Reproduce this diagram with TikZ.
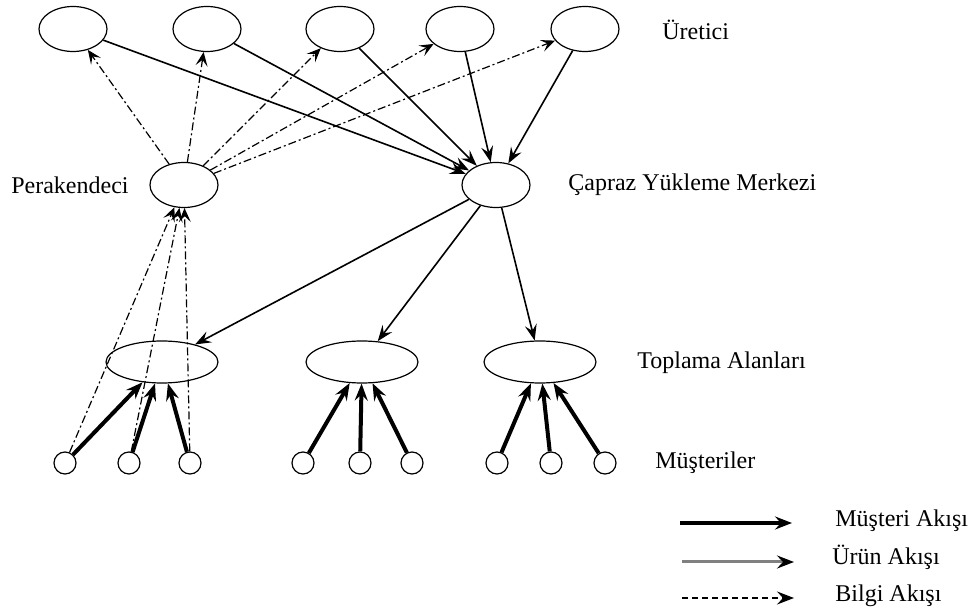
\documentclass[tikz,border=0pt]{standalone}
\usepackage{fontspec}
\setmainfont{Liberation Serif}
\usetikzlibrary{arrows.meta,shapes.geometric}

\begin{document}
\begin{tikzpicture}[x=0.5pt,y=-0.5pt,
	elips/.style={draw,ellipse,line width=0.6pt,minimum width=34pt,minimum height=22.5pt,inner sep=0pt},
	genis/.style={draw,ellipse,line width=0.6pt,minimum width=56pt,minimum height=21pt,inner sep=0pt},
	musteri/.style={draw,circle,line width=0.6pt,minimum size=11pt,inner sep=0pt},
	etiket/.style={anchor=west,inner sep=0pt,font=\fontsize{12}{14}\selectfont},
	urun/.style={line width=0.8pt,-{Stealth[length=8pt,width=6pt,inset=3pt]}},
	akis/.style={line width=2pt,-{Stealth[length=8.5pt,width=6.5pt,inset=3pt]}},
	bilgi/.style={line width=0.6pt,dash pattern=on 4pt off 1.5pt on 1pt off 1.5pt,-{Stealth[length=7pt,width=6pt,inset=3pt]}}]
				\useasboundingbox (0,0) rectangle (975,614);
				% ureticiler, perakendeci, capraz yukleme
				\foreach \x [count=\i] in {73,207,340,460,585}
					\node[elips] (u\i) at (\x,29) {};
				\node[elips] (per) at (184,185) {};
				\node[elips] (cm) at (496,185) {};
				\foreach \x [count=\i] in {162,362,540}
					\node[genis] (t\i) at (\x,362) {};
				\foreach \x [count=\i] in {65,129,190,303,360,412,497,551,605}
					\node[musteri] (m\i) at (\x,463) {};
				% akislar
				\foreach \i in {1,...,5}
					\draw[urun] (u\i) -- (cm);
				\foreach \i in {1,...,5}
					\draw[bilgi] (per) -- (u\i);
				\foreach \i in {1,2,3}
					\draw[urun] (cm) -- (t\i);
				\foreach \m/\g in {1/1,2/1,3/1,4/2,5/2,6/2,7/3,8/3,9/3}
					\draw[akis] (m\m) -- (t\g);
				\foreach \i in {1,2,3}
					\draw[bilgi] (m\i) -- (per);
				% etiketler
				\node[etiket] (lu) at (662,30) {Üretici};
				\node[etiket,anchor=east] (lp) at (129,185) {Perakendeci};
				\node[etiket] (lc) at (568,185) {Çapraz Yükleme Merkezi};
				\node[etiket] (lt) at (637,363) {Toplama Alanları};
				\node[etiket] (lm) at (655,463) {Müşteriler};
				% lejant
				\coordinate (a1) at (680,523);
				\coordinate (b1) at (792,523);
				\coordinate (a2) at (682,562);
				\coordinate (b2) at (794,562);
				\coordinate (a3) at (682,598);
				\coordinate (b3) at (794,598);
				\draw[akis] (a1) -- (b1);
				\draw[line width=1.5pt,gray,-{Stealth[length=8.5pt,width=6.5pt,inset=3pt,black]}] (a2) -- (b2);
				\draw[line width=0.6pt,dash pattern=on 3pt off 2pt,-{Stealth[length=8.5pt,width=6.5pt,inset=3pt]}] (a3) -- (b3);
				\node[etiket] (l1) at (835,521) {Müşteri Akışı};
				\node[etiket] (l2) at (832,557) {Ürün Akışı};
				\node[etiket] (l3) at (835,596) {Bilgi Akışı};
			\end{tikzpicture}
\end{document}
